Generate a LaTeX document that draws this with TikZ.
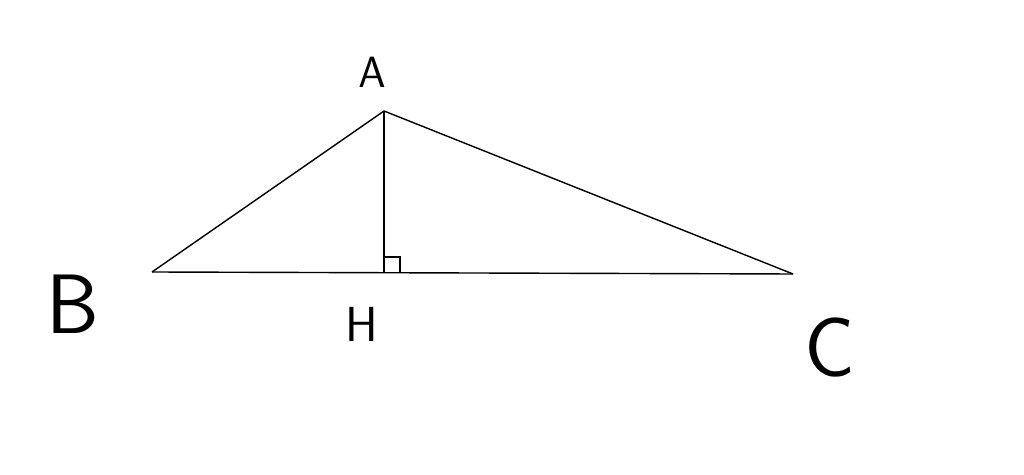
\documentclass[tikz,border=0pt]{standalone}
\usepackage{tikz}
\usetikzlibrary{positioning}

\begin{document}
\begin{tikzpicture}[x=0.02cm,y=-0.02cm,line width=0.8pt]
\tikzset{vertex/.style={inner sep=0pt,font=\sffamily}}
\tikzset{side/.style={draw=black}}
  \useasboundingbox (0,0) rectangle (1024,475);
  \coordinate (A) at (384,111);
  \coordinate (B) at (152,272);
  \coordinate (C) at (793,274);
  \coordinate (H) at (384,273);
  \node[vertex,font=\sffamily\fontsize{34}{34}\selectfont] (lA) at (372,72)  {$\mathsf{A}$};
  \node[vertex,font=\sffamily\fontsize{48}{48}\selectfont] (lB) at (73,304)  {B};
  \node[vertex,font=\sffamily\fontsize{28}{28}\selectfont] (lH) at (362,324) {H};
  \node[vertex,font=\sffamily\fontsize{48}{48}\selectfont] (lC) at (830,348) {C};
\path (A) edge [side] (B)
      (B) edge [side] (C)
      (C) edge [side] (A)
      (A) edge [side] (H);
  % right angle mark
  \draw (H) ++(0,-16) -| ++(16,16);
\end{tikzpicture}
\end{document}
